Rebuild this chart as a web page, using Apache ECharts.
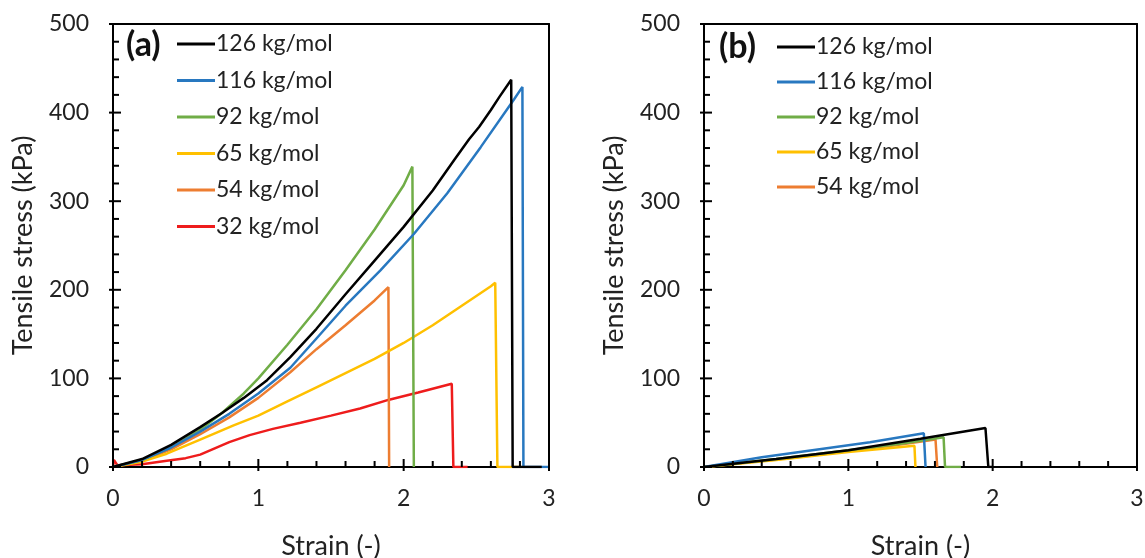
<!DOCTYPE html>
<html>
<head>
<meta charset="utf-8">
<script src="https://cdn.jsdelivr.net/npm/echarts@6/dist/echarts.min.js"></script>
<style>html,body{margin:0;padding:0;background:#fff}#c{width:1145px;height:558px}</style>
</head>
<body>
<div id="c"></div>
<script>
// Panel (a) series: [strain, stress kPa]
var a126 = [[0,0],[0.2,9],[0.4,25],[0.6,45],[0.75,61],[0.9,78],[1.06,98],[1.22,124],[1.4,156],[1.6,195],[1.8,233],[2.0,271],[2.2,312],[2.35,347],[2.45,370],[2.52,384],[2.6,403],[2.66,418],[2.74,437],[2.75,0],[2.95,0]];
var a116 = [[0,0],[0.2,8],[0.4,22],[0.6,40],[0.8,60],[1.0,83],[1.22,112],[1.4,145],[1.6,182],[1.84,222],[2.07,263],[2.3,309],[2.53,361],[2.76,415],[2.817,429],[2.824,0],[3.0,0]];
var a92 = [[0,0],[0.2,8],[0.4,22],[0.6,42],[0.75,61],[0.9,83],[1.0,100],[1.2,138],[1.4,178],[1.6,222],[1.8,268],[2.0,318],[2.06,339],[2.07,0]];
var a65 = [[0,0],[0.2,6],[0.37,15],[0.6,31],[0.83,47],[1.0,58],[1.2,74],[1.4,90],[1.6,106],[1.8,122],[2.0,140],[2.2,160],[2.4,182],[2.6,204],[2.63,208],[2.645,0],[2.81,0]];
var a54 = [[0,0],[0.2,7],[0.4,20],[0.6,37],[0.8,56],[1.0,78],[1.22,107],[1.4,133],[1.6,160],[1.8,188],[1.895,203],[1.9,0]];
var a32 = [[0,0],[0.006,8],[0.03,2],[0.2,3],[0.37,7],[0.5,10],[0.6,14],[0.7,21],[0.8,28],[0.94,36],[1.1,43],[1.29,50],[1.5,58],[1.7,66],[1.9,76],[2.1,84],[2.331,94],[2.342,0],[2.44,0]];
// Panel (b) series
var b126 = [[0,0],[0.5,9],[1.0,19],[1.5,32],[1.95,44],[1.97,0],[2.0,0]];
var b116 = [[0,0],[0.4,11],[0.8,20],[1.15,28],[1.523,38],[1.535,0]];
var b92 = [[0,0],[0.5,9],[1.0,19],[1.4,27],[1.66,33.5],[1.67,0],[1.78,0]];
var b65 = [[0,0],[0.5,8],[1.0,17],[1.458,24],[1.465,0]];
var b54 = [[0,0],[0.5,8.5],[1.0,18],[1.3,24],[1.604,31],[1.616,0]];

var namesA = ['126 kg/mol','116 kg/mol','92 kg/mol','65 kg/mol','54 kg/mol','32 kg/mol'];
var namesB = ['126 kg/mol','116 kg/mol','92 kg/mol','65 kg/mol','54 kg/mol'];
var colors = ['#000000','#2878c0','#70ad47','#ffc000','#ed7d31','#ee1c1c'];

// Tick positions: labelled (major) and minor
var xMajor = [0,1,2,3];
var xMinor = [0.2,0.4,0.6,0.8,1.2,1.4,1.6,1.8,2.2,2.4,2.6,2.8];
var yMajor = [0,100,200,300,400,500];
var yMinor = [20,40,60,80,120,140,160,180,220,240,260,280,320,340,360,380,420,440,460,480];

var FONT = 'Lato';
function xAxis(gi){
  return {type:'value', gridIndex:gi, position:'bottom', min:0, max:3, interval:1,
    name:'Strain (-)', nameLocation:'middle', nameGap:66,
    nameTextStyle:{fontFamily:FONT, fontSize:27, color:'#222'},
    axisLine:{show:true, lineStyle:{color:'#000', width:2}},
    axisTick:{show:false}, minorTick:{show:false},
    axisLabel:{show:true, fontFamily:FONT, fontSize:23, color:'#222', margin:20},
    splitLine:{show:false}};
}
function yAxis(gi){
  return {type:'value', gridIndex:gi, position:'left', min:0, max:500, interval:100,
    name:'Tensile stress (kPa)', nameLocation:'middle', nameGap:76,
    nameTextStyle:{fontFamily:FONT, fontSize:27, color:'#222'},
    axisLine:{show:true, lineStyle:{color:'#000', width:2}},
    axisTick:{show:false}, minorTick:{show:false},
    axisLabel:{show:true, fontFamily:FONT, fontSize:23, color:'#222', margin:24},
    splitLine:{show:false}};
}
function frameAxis(gi, pos, isX){
  return {type:'value', gridIndex:gi, position:pos, min:0, max:isX?3:500,
    axisLine:{show:true, onZero:false, lineStyle:{color:'#000', width:2}},
    axisTick:{show:false}, axisLabel:{show:false}, splitLine:{show:false}};
}
// tick marks drawn as small black rect symbols placed through the axes' scales.
// They carry the (black) first legend name so the legend does not filter them out
// and adds no extra entry.
function tickScatter(gi, vals, dim, major){
  var data = vals.map(function(v){ return dim === 'x' ? [v, 0] : [0, v]; });
  var size = dim === 'x' ? [2, major ? 12 : 6] : [major ? 12 : 6, 2];
  var off = dim === 'x' ? [0, major ? -2 : -3] : [major ? 2 : 3, 0];
  return {type:'scatter', name:(gi === 0 ? namesA[0] : namesB[0]), xAxisIndex:gi, yAxisIndex:gi,
    data:data, symbol:'rect', symbolSize:size, symbolOffset:off,
    itemStyle:{color:'#000', opacity:1}, legendHoverLink:false,
    silent:true, clip:false, z:20, emphasis:{disabled:true}};
}
var dataA = [a126,a116,a92,a65,a54,a32];
var dataB = [b126,b116,b92,b65,b54];
var series = [];
dataA.forEach(function(d,i){
  series.push({type:'line', name:namesA[i], xAxisIndex:0, yAxisIndex:0, data:d, symbol:'none',
    lineStyle:{color:colors[i], width:2.5}, itemStyle:{color:colors[i]}, z:10-i});
});
dataB.forEach(function(d,i){
  series.push({type:'line', name:namesB[i], xAxisIndex:1, yAxisIndex:1, data:d, symbol:'none',
    lineStyle:{color:colors[i], width:2.5}, itemStyle:{color:colors[i]}, z:10-i});
});
[0,1].forEach(function(gi){
  series.push(tickScatter(gi, xMinor, 'x', false), tickScatter(gi, xMajor, 'x', true),
              tickScatter(gi, yMinor, 'y', false), tickScatter(gi, yMajor, 'y', true));
});

function legend(left, top, names, gap){
  return {left:left, top:top, orient:'vertical', data:names, icon:'rect', itemWidth:38, itemHeight:3,
    itemGap:gap, selectedMode:false, padding:0,
    textStyle:{fontFamily:FONT, fontSize:23, color:'#222', lineHeight:24, padding:[0,0,0,-4]}};
}
var chart = echarts.init(document.getElementById('c'));
chart.setOption({
  animation:false,
  grid:[
    {left:113, top:24, width:436, height:443, containLabel:false, outerBoundsMode:'none'},
    {left:704, top:24, width:433, height:443, containLabel:false, outerBoundsMode:'none'}
  ],
  xAxis:[xAxis(0), xAxis(1), frameAxis(0,'top',true), frameAxis(1,'top',true)],
  yAxis:[yAxis(0), yAxis(1), frameAxis(0,'right',false), frameAxis(1,'right',false)],
  legend:[legend(177, 32, namesA, 12.5), legend(777, 35, namesB, 11)],
  graphic:[
    {type:'text', left:126, top:28, style:{text:'(a)', font:'bold 34px '+FONT, fill:'#111'}},
    {type:'text', left:719, top:30, style:{text:'(b)', font:'bold 34px '+FONT, fill:'#111'}}
  ],
  series:series
});
</script>
</body>
</html>
